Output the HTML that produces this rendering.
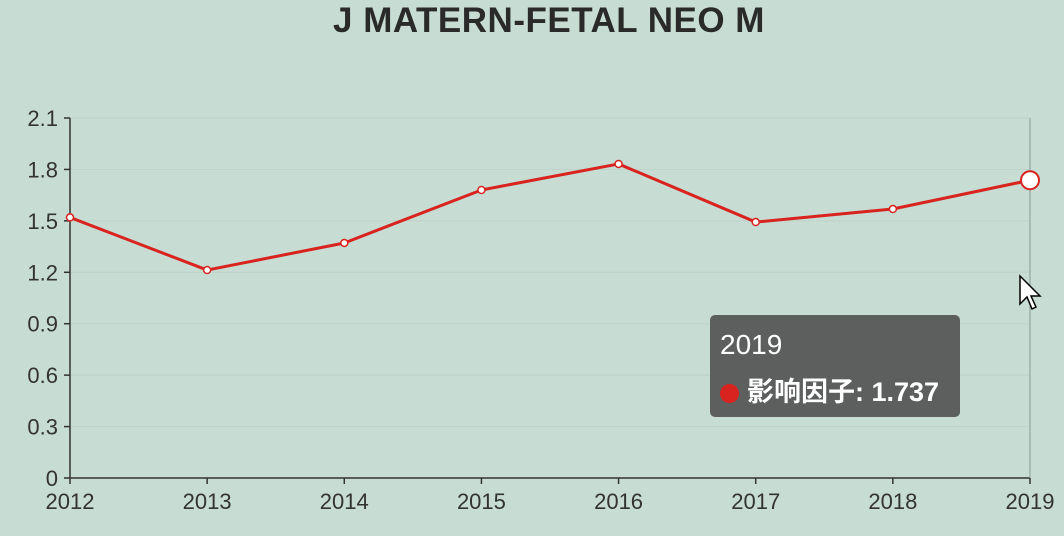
<!DOCTYPE html>
<html><head><meta charset="utf-8">
<style>
html,body{margin:0;padding:0;background:#c7dcd3;}
body{width:1064px;height:536px;overflow:hidden;position:relative;font-family:"Liberation Sans","Noto Sans CJK SC",sans-serif;}
#title{position:absolute;left:0;top:1px;width:1098px;text-align:center;font-size:35px;font-weight:bold;color:#2a2a2a;letter-spacing:0.5px;}
#tooltip{position:absolute;left:710px;top:315px;width:250px;height:102px;background:#5d5f5e;border-radius:5px;color:#fff;}
</style></head><body>
<div id="title">J MATERN-FETAL NEO M</div>
<svg id="chart" width="1064" height="536" style="position:absolute;left:0;top:0"></svg>
<div id="tooltip">
  <div style="position:absolute;left:10px;top:14px;font-size:28px">2019</div>
  <div style="position:absolute;left:10px;top:55px;font-size:27px;font-weight:bold;white-space:nowrap"><span style="display:inline-block;width:19px;height:19px;border-radius:50%;background:#d9231f;vertical-align:-2px;margin-right:8px"></span>影响因子: 1.737</div>
</div>
<svg width="30" height="40" style="position:absolute;left:1018px;top:274px"><path d="M2 2 L2 30 L9 23 L14 35 L18 33 L13 22 L22 22 Z" fill="#fff" stroke="#000" stroke-width="1.5"/></svg>
<script>
const categories=["2012","2013","2014","2015","2016","2017","2018","2019"];
const values=[1.52,1.213,1.371,1.68,1.832,1.493,1.569,1.737];
const yTicks=[0,0.3,0.6,0.9,1.2,1.5,1.8,2.1];
const NS="http://www.w3.org/2000/svg";
const svg=document.getElementById('chart');
const x0=70,x1=1030,y0=478,y1=118,yMax=2.1;
function xs(i){return x0+(x1-x0)*i/(categories.length-1);}
function ys(v){return y0-(y0-y1)*v/yMax;}
function mk(t,a,p){const e=document.createElementNS(NS,t);for(const k in a)e.setAttribute(k,a[k]);(p||svg).appendChild(e);return e;}
yTicks.forEach(v=>{
  const y=ys(v);
  if(v>0){const g=mk('line',{x1:x0,x2:x1,y1:y,y2:y,stroke:'#bed3ca','stroke-width':1});
  
  }
  const t=mk('line',{x1:x0-6,x2:x0,y1:y,y2:y,stroke:'#333','stroke-width':1.5});
  
  
  const l=mk('text',{x:x0-12,y:y+8,'text-anchor':'end','font-size':22,fill:'#333','font-family':'Liberation Sans, sans-serif'});
  l.textContent=String(v);
  
  
});
const ya=mk('line',{x1:x0,x2:x0,y1:y1,y2:y0,stroke:'#333','stroke-width':1.5});


const xa=mk('line',{x1:x0,x2:x1,y1:y0,y2:y0,stroke:'#333','stroke-width':1.5});


const hv=mk('line',{x1:x1,x2:x1,y1:y1,y2:y0,stroke:'#8a9a94','stroke-width':1});


categories.forEach((c,i)=>{
  const x=xs(i);
  const t=mk('line',{x1:x,x2:x,y1:y0,y2:y0+6,stroke:'#333','stroke-width':1.5});
  
  
  const l=mk('text',{x:x,y:y0+31,'text-anchor':'middle','font-size':22,fill:'#333','font-family':'Liberation Sans, sans-serif'});
  l.textContent=c;
  
  
});
const pts=values.map((v,i)=>xs(i)+','+ys(v)).join(' ');
const line=mk('polyline',{points:pts,fill:'none',stroke:'#d9231f','stroke-width':3,'stroke-linejoin':'round'});


values.forEach((v,i)=>{
  const last=i===values.length-1;
  const c=mk('circle',{cx:xs(i),cy:ys(v),r:last?9:3.5,fill:'#fff',stroke:'#d9231f','stroke-width':last?2:1.5});
  
  
});
</script>
</body></html>
